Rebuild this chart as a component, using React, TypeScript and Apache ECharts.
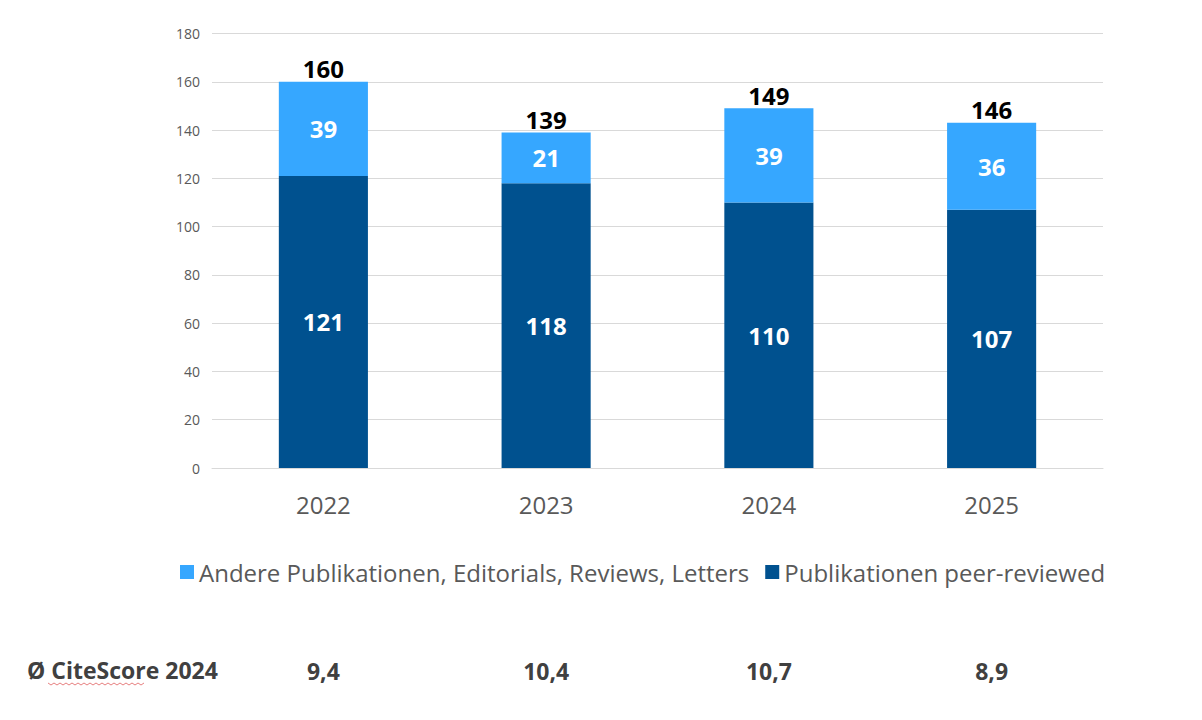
import * as echarts from 'echarts';
import { useEffect, useRef } from 'react';
import type { ECharts } from 'echarts';

const years = ['2022', '2023', '2024', '2025'];
const peerReviewed = [121, 118, 110, 107];
const otherPublications = [39, 21, 39, 36];
const totals = [160, 139, 149, 146];
const citeScores = ['9,4', '10,4', '10,7', '8,9'];

const FONT = '"Open Sans", sans-serif';

// red spell-check squiggle under "CiteScore"
const squiggle: number[][] = [];
for (let x = 0; x <= 96; x += 3) {
  squiggle.push([x, (x / 3) % 2 === 0 ? 0 : 2]);
}

const App = () => {
  const chartRef = useRef<HTMLDivElement>(null);

  useEffect(() => {
    let chart: ECharts | null = null;
    if (chartRef.current !== null) {
      chart = echarts.init(chartRef.current, null, { renderer: 'svg' });
    }

    const options = {
      animation: false,
      backgroundColor: '#ffffff',
      textStyle: { fontFamily: FONT },
      grid: { left: 212, right: 99, top: 33.5, bottom: 252 },
      legend: {
        left: 180,
        top: 560,
        padding: 0,
        itemWidth: 14,
        itemHeight: 14,
        itemGap: 16,
        icon: 'rect',
        textStyle: { fontSize: 24, color: '#595959', fontFamily: FONT },
        data: ['Andere Publikationen, Editorials, Reviews, Letters', 'Publikationen peer-reviewed'],
      },
      xAxis: [
        {
          type: 'category',
          data: years,
          axisLine: { lineStyle: { color: '#D9D9D9', width: 1 } },
          axisTick: { show: false },
          axisLabel: { fontSize: 24, color: '#595959', margin: 24, fontFamily: FONT },
        },
        {
          type: 'category',
          data: citeScores,
          position: 'bottom',
          offset: 184,
          axisLine: { show: false },
          axisTick: { show: false },
          axisLabel: { fontSize: 23, fontWeight: 'bold', color: '#404040', margin: 7, fontFamily: FONT },
        },
      ],
      yAxis: {
        type: 'value',
        min: 0,
        max: 180,
        interval: 20,
        axisLine: { show: false },
        axisTick: { show: false },
        axisLabel: { fontSize: 14, color: '#595959', margin: 12, fontFamily: FONT },
        splitLine: { lineStyle: { color: '#D9D9D9', width: 1 } },
      },
      series: [
        {
          name: 'Publikationen peer-reviewed',
          type: 'bar',
          stack: 'total',
          barWidth: '40%',
          data: peerReviewed,
          itemStyle: { color: '#00518F' },
          label: {
            show: true,
            position: 'inside',
            color: '#ffffff',
            fontSize: 24,
            fontWeight: 'bold',
            fontFamily: FONT,
          },
        },
        {
          name: 'Andere Publikationen, Editorials, Reviews, Letters',
          type: 'bar',
          stack: 'total',
          barWidth: '40%',
          data: otherPublications,
          itemStyle: { color: '#36A7FF' },
          label: {
            show: true,
            position: 'inside',
            color: '#ffffff',
            fontSize: 24,
            fontWeight: 'bold',
            fontFamily: FONT,
          },
        },
        {
          name: 'totals',
          type: 'bar',
          stack: 'total',
          barWidth: '40%',
          data: totals.map(() => 0),
          itemStyle: { color: 'transparent' },
          label: {
            show: true,
            position: 'top',
            distance: 1,
            color: '#000000',
            fontSize: 24,
            fontWeight: 'bold',
            fontFamily: FONT,
            formatter: (p: { dataIndex: number }) => String(totals[p.dataIndex]),
          },
        },
      ],
      graphic: [
        {
          type: 'text',
          left: 27,
          top: 658,
          style: {
            text: 'Ø CiteScore 2024',
            fontSize: 23,
            fontWeight: 'bold',
            fill: '#404040',
            fontFamily: FONT,
          },
        },
        {
          type: 'polyline',
          x: 48,
          y: 683,
          shape: { points: squiggle },
          style: { stroke: '#E06060', lineWidth: 0.8, fill: 'none' },
        },
      ],
    };

    chart?.setOption(options);

    return () => {
      chart?.dispose();
      chart = null;
    };
  }, []);

  return (
    <div
      ref={chartRef}
      style={{ position: 'absolute', left: 0, top: 0, width: 1202, height: 720 }}
    ></div>
  );
};

export default App;
